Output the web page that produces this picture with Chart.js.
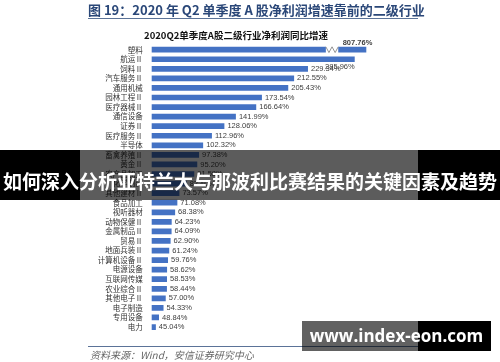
<!DOCTYPE html>
<html>
<head>
<meta charset="utf-8">
<script src="https://cdn.jsdelivr.net/npm/chart.js@4/dist/chart.umd.min.js"></script>
<style>
  html, body { margin: 0; padding: 0; background: #fff; }
  #wrap { position: relative; width: 500px; height: 362px; overflow: hidden; font-family: "Noto Sans CJK SC", sans-serif; }
  #chart { position: absolute; left: 0; top: 0; }
  .hdr { position: absolute; left: 88px; top: 0px; width: 330px; text-align: center; font-size: 13px; line-height: 19px; font-weight: bold; color: #2a4778; white-space: nowrap; }
  .hline { position: absolute; left: 88px; top: 18px; width: 330px; height: 1px; background: #5b7398; }
  .ctitle { position: absolute; left: 136px; width: 200px; top: 29px; font-size: 9.5px; line-height: 12px; font-weight: bold; text-align: center; color: #111; white-space: nowrap; }
  .sline { position: absolute; left: 88px; top: 346px; width: 330px; height: 1px; background: #5b7398; }
  .src { position: absolute; left: 90px; top: 348px; font-size: 10px; line-height: 14px; color: #666; font-style: italic; white-space: nowrap; }
  .band { position: absolute; top: 150px; height: 50px; }
  .banner { position: absolute; left: 0; top: 156px; width: 500px; height: 50px; line-height: 50px; text-align: center; color: #fff; font-weight: bold; white-space: nowrap; }
  #bannerText { display: inline-block; font-size: 20px; }
  .wm { position: absolute; top: 321px; height: 30px; }
  .wmtext { position: absolute; left: 302px; top: 321px; width: 189px; height: 30px; line-height: 30px; text-align: center; color: #fff; font-family: "Open Sans", sans-serif; font-weight: bold; font-size: 17px; white-space: nowrap; }
</style>
</head>
<body>
<div id="wrap">
  <canvas id="chart" width="500" height="362"></canvas>
  <div class="hdr">图 19：2020 年 Q2 单季度 A 股净利润增速靠前的二级行业</div>
  <div class="hline"></div>
  <div class="ctitle">2020Q2单季度A股二级行业净利润同比增速</div>
  <div class="sline"></div>
  <div class="src">资料来源：Wind，安信证券研究中心</div>
  <div class="band" style="left:0;width:80px;background:#000"></div>
  <div class="band" style="left:80px;width:338px;background:rgba(0,0,0,0.64)"></div>
  <div class="band" style="left:418px;width:82px;background:#000"></div>
  <div class="banner"><span id="bannerText">如何深入分析亚特兰大与那波利比赛结果的关键因素及趋势</span></div>
  <div class="wm" style="left:302px;width:116px;background:rgba(0,0,0,0.62)"></div>
  <div class="wm" style="left:418px;width:73px;background:#000"></div>
  <div class="wmtext">www.index-eon.com</div>
</div>
<script>
// 行业及净利润同比增速（%）
const industries = ['塑料', '航运Ⅱ', '饲料Ⅱ', '汽车服务Ⅱ', '通用机械', '园林工程Ⅱ', '医疗器械Ⅱ', '通信设备', '证券Ⅱ', '医疗服务Ⅱ',
  '半导体', '畜禽养殖Ⅱ', '黄金Ⅱ', '农产品加工', '化学制药', '其他建材Ⅱ', '食品加工', '视听器材', '动物保健Ⅱ', '金属制品Ⅱ',
  '贸易Ⅱ', '地面兵装Ⅱ', '计算机设备Ⅱ', '电源设备', '互联网传媒', '农业综合Ⅱ', '其他电子Ⅱ', '电子制造', '专用设备', '电力'];
const growth = [807.76, 285.96, 229.34, 212.55, 205.43, 173.54, 166.64, 141.99, 128.06, 112.96,
  102.32, 97.38, 95.20, 91.58, 82.40, 73.57, 71.08, 68.38, 64.23, 64.09,
  62.90, 61.24, 59.76, 58.62, 58.53, 58.44, 57.00, 54.33, 48.84, 45.04];
const axisMin = 40;
const axisMax = 300;
const breakFrom = 251;
const breakTo = 266;

// shrink the banner line so it fits the page width
const bt = document.getElementById('bannerText');
const bw = bt.getBoundingClientRect().width;
if (bw > 0) bt.style.fontSize = (20 * 494 / bw).toFixed(2) + 'px';

// value labels + axis break on the bar that runs past the scale
const barLabels = {
  id: 'barLabels',
  afterDatasetsDraw(chart) {
    const { ctx, chartArea, scales: { x } } = chart;
    const bars = chart.getDatasetMeta(0).data;
    ctx.save();
    ctx.font = '7.5px "Liberation Sans", sans-serif';
    ctx.fillStyle = '#404040';
    ctx.textBaseline = 'middle';
    bars.forEach((bar, i) => {
      const v = growth[i];
      const txt = v.toFixed(2) + '%';
      const h = bar.height;
      if (v > x.max) {
        const x0 = x.getPixelForValue(breakFrom);
        const x1 = x.getPixelForValue(breakTo);
        ctx.fillStyle = '#fff';
        ctx.fillRect(x0, bar.y - h / 2 - 1, x1 - x0, h + 2);
        ctx.strokeStyle = '#777';
        ctx.lineWidth = 0.8;
        ctx.beginPath();
        const steps = 4;
        for (let k = 0; k <= steps; k++) {
          const px = x0 + (x1 - x0) * k / steps;
          const py = bar.y + (k % 2 === 0 ? -h / 2 : h / 2);
          if (k === 0) ctx.moveTo(px, py); else ctx.lineTo(px, py);
        }
        ctx.stroke();
        ctx.fillStyle = '#404040';
        ctx.font = 'bold 7.5px "Liberation Sans", sans-serif';
        ctx.textAlign = 'right';
        ctx.fillText(txt, chartArea.right + 6, bar.y - h / 2 - 4);
        ctx.font = '7.5px "Liberation Sans", sans-serif';
        return;
      }
      const w = ctx.measureText(txt).width;
      if (bar.x + 3 + w > chartArea.right) {
        ctx.textAlign = 'right';
        ctx.fillText(txt, bar.x, bar.y + h + 2);
      } else {
        ctx.textAlign = 'left';
        ctx.fillText(txt, bar.x + 3, bar.y);
      }
    });
    ctx.restore();
  }
};

new Chart(document.getElementById('chart'), {
  type: 'bar',
  data: {
    labels: industries,
    datasets: [{ data: growth, backgroundColor: '#4472c4', barPercentage: 0.6, categoryPercentage: 1 }]
  },
  options: {
    responsive: false,
    animation: false,
    indexAxis: 'y',
    layout: { padding: { left: 0, right: 133.7, top: 44.9, bottom: 30.2 } },
    plugins: { legend: { display: false }, tooltip: { enabled: false } },
    scales: {
      x: { display: false, min: axisMin, max: axisMax },
      y: {
        grid: { display: false, drawTicks: false },
        border: { display: false },
        ticks: { font: { size: 7.5, family: '"Noto Sans CJK SC", sans-serif' }, color: '#333', padding: 9, autoSkip: false },
        afterFit(scale) { scale.width = 151.7; }
      }
    }
  },
  plugins: [barLabels]
});
</script>
</body>
</html>
